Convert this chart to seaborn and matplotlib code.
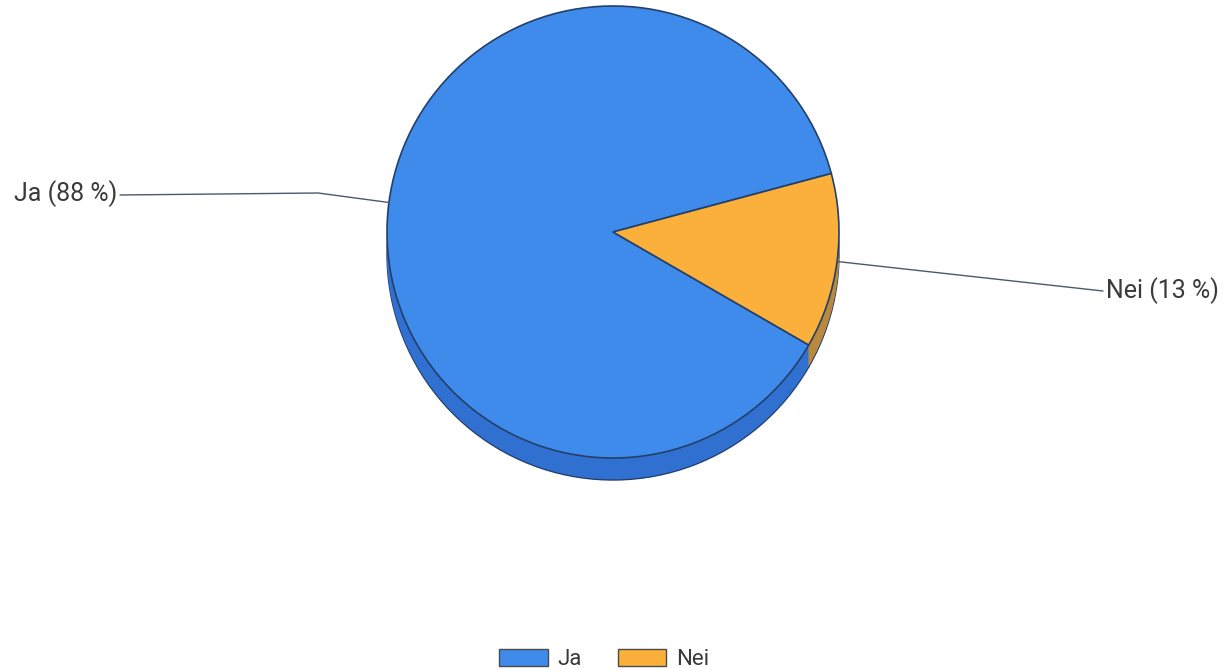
import matplotlib
matplotlib.use("Agg")
import matplotlib.pyplot as plt
import seaborn as sns
import numpy as np

# ---- data ----
categories = ["Ja", "Nei"]
shares = [87.5, 12.5]
label_texts = ["Ja (88 %)", "Nei (13 %)"]

# ---- style ----
sns.set_theme(style="white")
plt.rcParams["font.family"] = ["Roboto", "DejaVu Sans"]

top_colors = ["#3F8BEB", "#FBB03B"]
side_colors = ["#3070D0", "#B98A3E"]
edge_col = "#24406A"
text_col = "#3A3A3A"

W, H = 1228, 670
fig = plt.figure(figsize=(W / 100, H / 100), dpi=100)
ax = fig.add_axes([0, 0, 1, 1])

cx, cy = 613, H - 232
R = 226
depth = 22
start = 15

# extruded side (layers)
ax.pie(shares, colors=side_colors, startangle=start, radius=R,
       center=(cx, cy - depth),
       wedgeprops=dict(edgecolor=edge_col, linewidth=1.0))
for d in range(depth - 1, 0, -1):
    ax.pie(shares, colors=side_colors, startangle=start, radius=R,
           center=(cx, cy - d), wedgeprops=dict(linewidth=0))
# top face
wedges, _ = ax.pie(shares, colors=top_colors, startangle=start, radius=R,
                   center=(cx, cy),
                   wedgeprops=dict(edgecolor=edge_col, linewidth=1.2))

ax.set_aspect("equal")
ax.set_xlim(0, W)
ax.set_ylim(0, H)
ax.axis("off")

# leader lines and labels
total = sum(shares)
angles = []
a0 = start
for s in shares:
    a1 = a0 + 360 * s / total
    angles.append(np.deg2rad((a0 + a1) / 2))
    a0 = a1

# Ja label (left, with elbow)
ex, ey = cx + R * np.cos(angles[0]), cy + R * np.sin(angles[0])
ax.plot([ex, 318, 120], [ey, H - 193, H - 195], color="#4A5A6A", lw=1.0)
ax.text(117, H - 194, label_texts[0], ha="right", va="center",
        fontsize=18, color=text_col)

# Nei label (right)
ex, ey = cx + R * np.cos(angles[1]), cy + R * np.sin(angles[1])
ax.plot([ex, 1103], [ey, H - 291], color="#4A5A6A", lw=1.0)
ax.text(1106, H - 291, label_texts[1], ha="left", va="center",
        fontsize=18, color=text_col)

# legend
leg = ax.legend(wedges, categories, loc="lower center",
                bbox_to_anchor=(0.492, -0.014), borderaxespad=0.0, ncol=2,
                frameon=False, fontsize=16, handlelength=2.2,
                handleheight=0.8, handletextpad=0.45, columnspacing=1.6)
for t in leg.get_texts():
    t.set_color(text_col)
for h in leg.legend_handles:
    h.set_edgecolor("#4A4A4A")
    h.set_linewidth(1.0)

fig.savefig("out.png", dpi=100, facecolor="white")
